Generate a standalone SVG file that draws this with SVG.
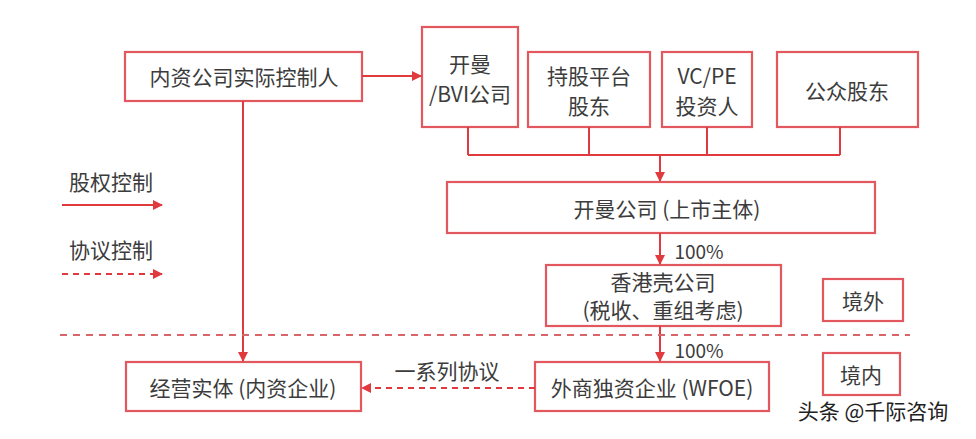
<svg xmlns="http://www.w3.org/2000/svg" width="976" height="439" viewBox="0 0 976 439">
<defs>
<marker id="ah" viewBox="0 0 10 10" refX="9" refY="5" markerWidth="10" markerHeight="10" markerUnits="userSpaceOnUse" orient="auto">
<path d="M0,0 L10,5 L0,10 z" fill="#E03A3F"/>
</marker>
</defs>
<style>
.box{fill:#fff;stroke:#E2585E;stroke-width:2.2}
.t{font-family:"Noto Sans CJK SC","Noto Sans",sans-serif;font-size:21px;fill:#3c3c3c;text-anchor:middle;dominant-baseline:central}
.ln{fill:none;stroke:#E03A3F;stroke-width:2}
.dl{fill:none;stroke:#E03A3F;stroke-width:2;stroke-dasharray:6,5}
.sep{fill:none;stroke:#D9656B;stroke-width:2;stroke-dasharray:7,6}
</style>
<rect width="976" height="439" fill="#fff"/>
<g id="controller"><rect class="box" x="125" y="52" width="237" height="49"/><text class="t" x="244" y="76">内资公司实际控制人</text></g>
<g id="bvi"><rect class="box" x="422" y="27" width="96" height="100"/><text class="t" x="470" y="63">开曼</text><text class="t" x="470" y="93">/BVI公司</text></g>
<g id="platform"><rect class="box" x="528" y="52" width="122" height="75"/><text class="t" x="589" y="75">持股平台</text><text class="t" x="589" y="105">股东</text></g>
<g id="vcpe"><rect class="box" x="662" y="52" width="90" height="75"/><text class="t" x="707" y="75">VC/PE</text><text class="t" x="707" y="105">投资人</text></g>
<g id="public"><rect class="box" x="777" y="52" width="141" height="75"/><text class="t" x="847" y="90">公众股东</text></g>
<g id="listed"><rect class="box" x="447" y="182" width="428" height="51"/><text class="t" x="667" y="208">开曼公司 (上市主体)</text></g>
<g id="hk"><rect class="box" x="546" y="265" width="235" height="61"/><text class="t" x="663" y="281">香港壳公司</text><text class="t" x="663" y="309">(税收、重组考虑)</text></g>
<g id="offshore"><rect class="box" x="823" y="279" width="80" height="42"/><text class="t" x="863" y="300">境外</text></g>
<g id="onshore"><rect class="box" x="823" y="353" width="77" height="42"/><text class="t" x="861" y="374">境内</text></g>
<g id="wfoe"><rect class="box" x="535" y="362" width="234" height="49"/><text class="t" x="652" y="387">外商独资企业 (WFOE)</text></g>
<g id="opco"><rect class="box" x="126" y="362" width="235" height="49"/><text class="t" x="243" y="387">经营实体 (内资企业)</text></g>
<g id="legend">
<text class="t" x="111" y="181">股权控制</text>
<line class="ln" x1="62" y1="205" x2="162" y2="205" marker-end="url(#ah)"/>
<text class="t" x="111" y="249">协议控制</text>
<line class="dl" x1="62" y1="274" x2="162" y2="274" marker-end="url(#ah)"/>
</g>
<g id="connectors">
<line class="ln" x1="362" y1="76" x2="421" y2="76" marker-end="url(#ah)"/>
<line class="ln" x1="243" y1="101" x2="243" y2="361" marker-end="url(#ah)"/>
<path class="ln" d="M468,127 V155 M589,127 V155 M707,127 V155 M840,127 V155 M468,155 H840"/>
<line class="ln" x1="660" y1="155" x2="660" y2="181" marker-end="url(#ah)"/>
<line class="ln" x1="660" y1="233" x2="660" y2="264" marker-end="url(#ah)"/>
<line class="ln" x1="660" y1="326" x2="660" y2="361" marker-end="url(#ah)"/>
<line class="dl" x1="535" y1="388" x2="362" y2="388" marker-end="url(#ah)"/>
<line class="sep" x1="60" y1="335" x2="910" y2="335"/>
<text class="t" x="699" y="250" style="font-size:19px">100%</text>
<text class="t" x="699" y="349" style="font-size:19px">100%</text>
<text class="t" x="447" y="370">一系列协议</text>
</g>
<text class="t" x="873" y="410" style="font-size:21px;fill:#222">头条 @千际咨询</text>
</svg>
